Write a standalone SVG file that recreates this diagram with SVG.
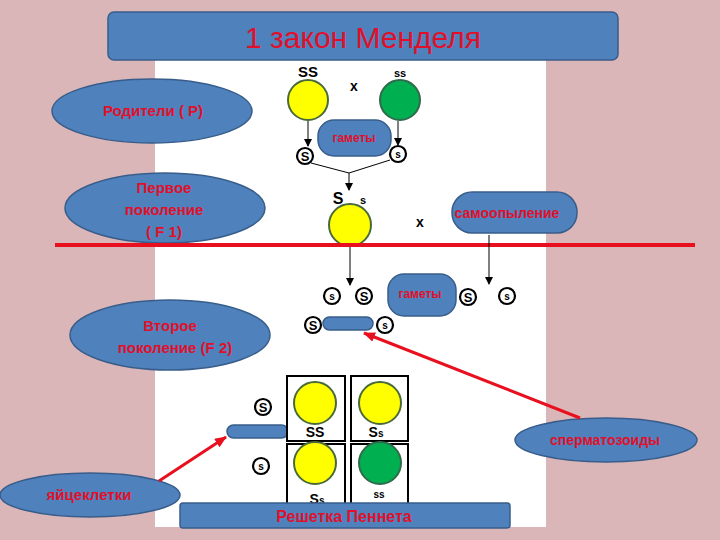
<svg xmlns="http://www.w3.org/2000/svg" width="720" height="540" viewBox="0 0 720 540">
<defs>
<marker id="ab" markerWidth="8" markerHeight="8" refX="7" refY="4" orient="auto" markerUnits="userSpaceOnUse"><path d="M0,0 L8,4 L0,8 z" fill="#000"/></marker>
<marker id="ar" markerWidth="12" markerHeight="10" refX="11" refY="5" orient="auto" markerUnits="userSpaceOnUse"><path d="M0,0 L12,5 L0,10 z" fill="#e8101e"/></marker>
<style>
.box{fill:#4f81bd;stroke:#385d8a;stroke-width:1.5}
.lbl{font-family:"Liberation Sans",Arial,sans-serif;font-weight:bold;fill:#e0102a;text-anchor:middle}
.yel{fill:#ffff00;stroke:#4a6a3a;stroke-width:2}
.grn{fill:#00b050;stroke:#2f6a4a;stroke-width:2}
.gen{font-family:"Liberation Sans",Arial,sans-serif;font-weight:bold;fill:#000;text-anchor:middle}
.cl{fill:#fff;stroke:#000;stroke-width:2.2}
.cell{fill:#fff;stroke:#000;stroke-width:2}
</style>
</defs>
<rect x="0" y="0" width="720" height="540" fill="#dbb6b8"/>
<rect x="155" y="55" width="391" height="472" fill="#fff"/>

<g id="title"><rect class="box" x="108" y="12" width="510" height="48" rx="6"/><text x="363" y="48" font-family="Liberation Sans,Arial,sans-serif" font-size="30" fill="#e0102a" text-anchor="middle">1 закон Менделя</text></g>

<g id="parents-label"><ellipse class="box" cx="152" cy="111" rx="100" ry="32"/><text class="lbl" x="153" y="116" font-size="15">Родители ( Р)</text></g>
<g id="f1-label"><ellipse class="box" cx="165" cy="208" rx="100" ry="35"/><text class="lbl" x="164" y="193" font-size="15">Первое</text><text class="lbl" x="164" y="215" font-size="15">поколение</text><text class="lbl" x="164" y="237" font-size="15">( F 1)</text></g>
<g id="f2-label"><ellipse class="box" cx="170" cy="335" rx="100" ry="35"/><text class="lbl" x="170" y="331" font-size="15">Второе</text><text class="lbl" x="175" y="353" font-size="15">поколение (F 2)</text></g>
<g id="sperm-label"><ellipse class="box" cx="606" cy="440" rx="91" ry="22"/><text class="lbl" x="605" y="445" font-size="14">сперматозоиды</text></g>
<g id="egg-label"><ellipse class="box" cx="90" cy="495" rx="90" ry="22"/><text class="lbl" x="89" y="500" font-size="15">яйцеклетки</text></g>
<g id="selfing"><rect class="box" x="452" y="192" width="125" height="41" rx="20"/><text class="lbl" x="507" y="218" font-size="14">самоопыление</text></g>

<g id="parent-SS"><circle class="yel" cx="308" cy="100" r="20"/><text class="gen" x="308" y="77" font-size="15">SS</text></g>
<g id="parent-ss"><circle class="grn" cx="400" cy="100" r="20"/><text class="gen" x="400" y="77" font-size="11">ss</text></g>
<text class="gen" x="354" y="91" font-size="14">x</text>
<g id="gametes1"><rect class="box" x="318" y="120" width="73" height="36" rx="16"/><text class="lbl" x="354" y="142" font-size="12">гаметы</text></g>
<g id="g-S1"><circle class="cl" cx="305" cy="156" r="8"/><text class="gen" x="305" y="161" font-size="13">S</text></g>
<g id="g-s1"><circle class="cl" cx="398" cy="154" r="8"/><text class="gen" x="398" y="158" font-size="10">s</text></g>

<g id="f1"><text class="gen" x="338" y="204" font-size="16">S</text><text class="gen" x="363" y="204" font-size="11">s</text><circle class="yel" cx="350" cy="225" r="21"/></g>
<text class="gen" x="420" y="227" font-size="14">x</text>

<g id="gamete-row"><circle class="cl" cx="332" cy="296" r="8"/><text class="gen" x="332" y="300" font-size="10">s</text>
<circle class="cl" cx="364" cy="296" r="8"/><text class="gen" x="364" y="301" font-size="13">S</text>
<rect class="box" x="388" y="274" width="68" height="42" rx="16"/><text class="lbl" x="420" y="298" font-size="12">гаметы</text>
<circle class="cl" cx="468" cy="297" r="8"/><text class="gen" x="468" y="302" font-size="13">S</text>
<circle class="cl" cx="507" cy="296" r="8"/><text class="gen" x="507" y="300" font-size="10">s</text></g>

<g id="sperm-row"><circle class="cl" cx="313" cy="325" r="8"/><text class="gen" x="313" y="330" font-size="13">S</text>
<rect class="box" x="323" y="317" width="50" height="13" rx="6.5"/>
<circle class="cl" cx="385" cy="325" r="8"/><text class="gen" x="385" y="329" font-size="10">s</text></g>

<g id="egg-col"><circle class="cl" cx="263" cy="407" r="8"/><text class="gen" x="263" y="412" font-size="13">S</text>
<rect class="box" x="227" y="425" width="61" height="13" rx="6.5"/>
<circle class="cl" cx="261" cy="466" r="8"/><text class="gen" x="261" y="470" font-size="10">s</text></g>

<g id="punnett">
<rect class="cell" x="287" y="376" width="58" height="65"/>
<rect class="cell" x="351" y="376" width="57" height="65"/>
<rect class="cell" x="287" y="444" width="58" height="70"/>
<rect class="cell" x="351" y="444" width="57" height="70"/>
<circle class="yel" cx="315" cy="403" r="21"/><text class="gen" x="315" y="437" font-size="14">SS</text>
<circle class="yel" cx="380" cy="403" r="21"/><text class="gen" x="376" y="437" font-size="14">S<tspan font-size="10">s</tspan></text>
<circle class="yel" cx="315" cy="463" r="21"/><text class="gen" x="317" y="504" font-size="14">S<tspan font-size="10">s</tspan></text>
<circle class="grn" cx="380" cy="463" r="21"/><text class="gen" x="379" y="498" font-size="10">ss</text>
</g>
<g id="punnett-label"><rect class="box" x="180" y="503" width="330" height="25" rx="3"/><text class="lbl" x="344" y="522" font-size="16">Решетка Пеннета</text></g>

<line x1="55" y1="245" x2="695" y2="245" stroke="#e8101e" stroke-width="4"/>

<g id="connectors" stroke="#000" stroke-width="1" fill="none">
<line x1="308" y1="121" x2="308" y2="146" marker-end="url(#ab)"/>
<line x1="398" y1="121" x2="398" y2="145" marker-end="url(#ab)"/>
<polyline points="311,163 349,173 390,160"/>
<line x1="349" y1="173" x2="349" y2="190" marker-end="url(#ab)"/>
<line x1="350" y1="247" x2="350" y2="285" marker-end="url(#ab)"/>
<line x1="489" y1="235" x2="489" y2="284" marker-end="url(#ab)"/>
<line x1="580" y1="418" x2="364" y2="333" stroke="#e8101e" stroke-width="3" marker-end="url(#ar)"/>
<line x1="159" y1="481" x2="226" y2="437" stroke="#e8101e" stroke-width="3" marker-end="url(#ar)"/>
</g>
</svg>
